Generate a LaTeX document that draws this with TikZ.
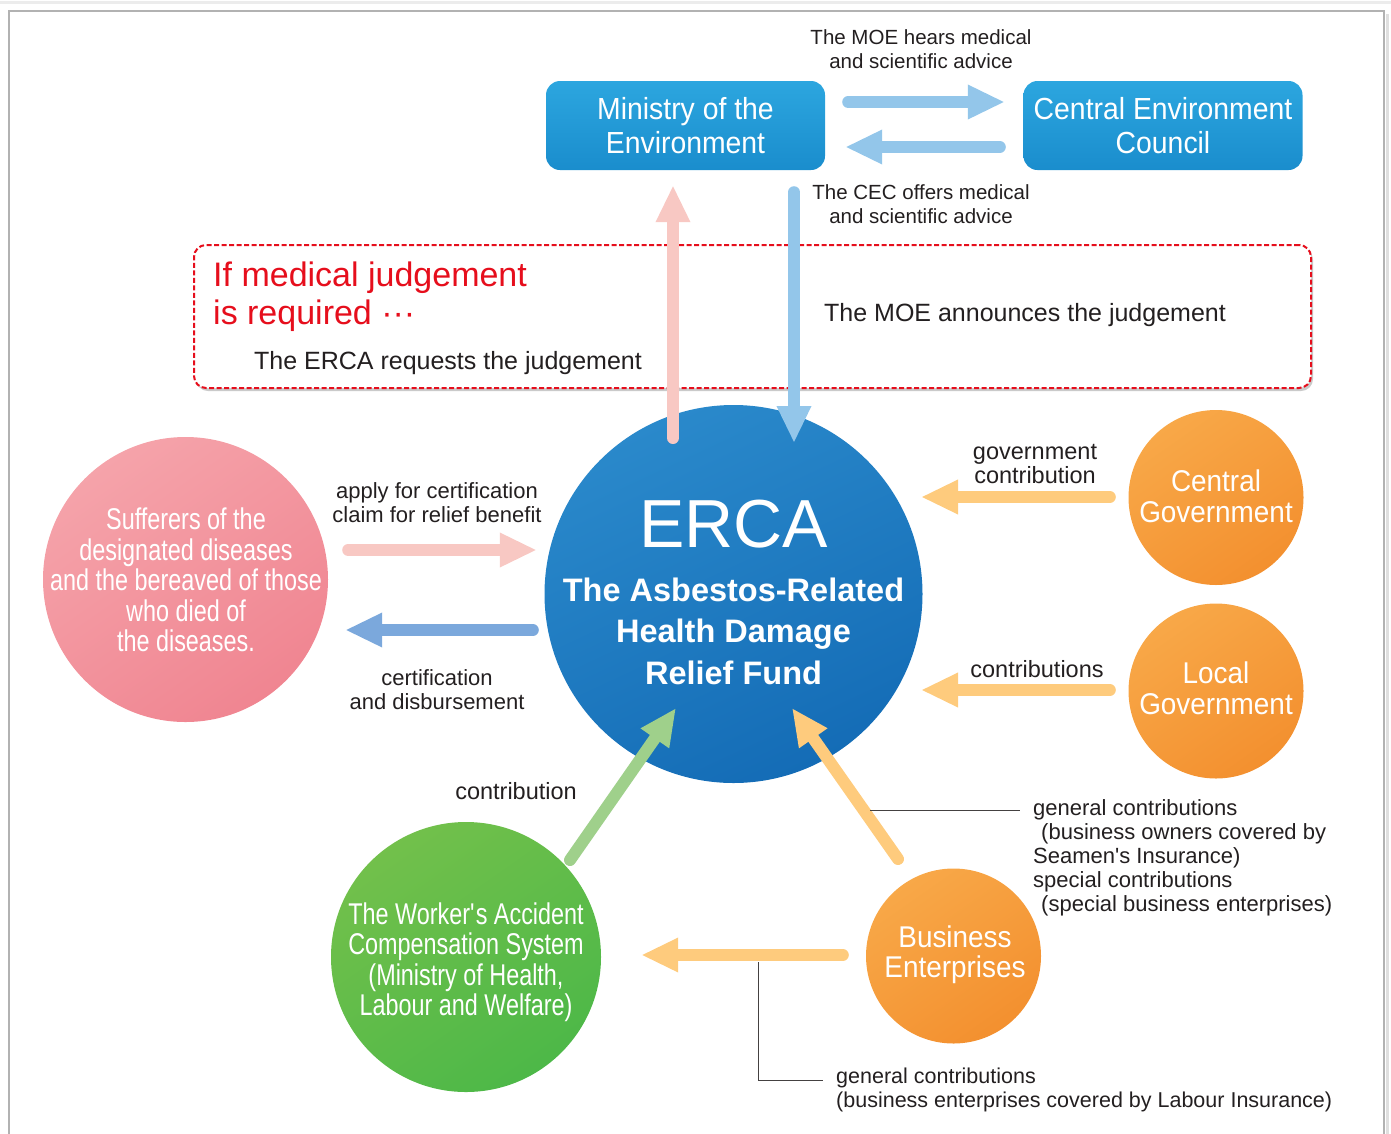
\documentclass[tikz,border=0pt]{standalone}
\usepackage{fontspec}
\setmainfont{Liberation Sans}
\newfontfamily\condA[FakeStretch=0.78]{Liberation Sans}
\newfontfamily\condB[FakeStretch=0.93]{Liberation Sans}
\usetikzlibrary{arrows.meta,calc,shadows}

\definecolor{boxtop}{HTML}{2CA6DF}
\definecolor{boxbot}{HTML}{1A8DCD}
\definecolor{ercaA}{HTML}{2A89CB}
\definecolor{ercaB}{HTML}{146CB6}
\definecolor{pinkA}{HTML}{F5A3AA}
\definecolor{pinkB}{HTML}{F08591}
\definecolor{greenA}{HTML}{72C04B}
\definecolor{greenB}{HTML}{4DB848}
\definecolor{orA}{HTML}{F8A848}
\definecolor{orB}{HTML}{F3902F}
\definecolor{apink}{HTML}{F8C8C3}
\definecolor{alblue}{HTML}{93C6EA}
\definecolor{ablue}{HTML}{7BA8DC}
\definecolor{agreen}{HTML}{9FD08B}
\definecolor{aorange}{HTML}{FECB7D}
\definecolor{jred}{HTML}{E60E1C}
\definecolor{ink}{HTML}{231F20}

\tikzset{
  fat/.style={line width=12pt, line cap=round, -{Triangle[width=32pt,length=37pt]}},
  bluebox/.style={rounded corners=14pt, minimum width=279pt, minimum height=89pt,
    top color=boxtop, bottom color=boxbot, draw=none, text=white, align=center,
    inner sep=0pt, font=\condB\fontsize{30.5}{34}\selectfont},
  circ/.style={circle, draw=none, inner sep=0pt},
  ctext/.style={text=white, align=center, inner sep=0pt},
  lab/.style={text=ink, align=center, inner sep=0pt},
  small/.style={font=\fontsize{20.5}{24.5}\selectfont},
  mid/.style={font=\fontsize{22}{24}\selectfont},
  big/.style={font=\fontsize{25}{28}\selectfont},
  dashbox/.style={draw=jred, line width=2pt, dash pattern=on 5pt off 2.5pt,
    rounded corners=12pt, fill=white, minimum width=1117pt, minimum height=143pt,
    drop shadow={shadow xshift=2pt, shadow yshift=-3pt, opacity=0.35, fill=black!60}},
  leader/.style={draw=ink!85, line width=1pt}
}

\begin{document}
\begin{tikzpicture}[x=1pt,y=-1pt]
\useasboundingbox (0,0) rectangle (1391,1133);
% frame
\draw[gray!15, line width=3pt] (0,2) -- (1391,2);
\draw[gray!25, line width=3pt] (1387.5,14) -- (1387.5,1140);
\draw[gray!60, line width=1.5pt] (9,1140) -- (9,11) -- (1384,11) -- (1384,1140);

% dashed judgement box
\node[dashbox] (judge) at (752.5,316.5) {};
\node[anchor=west, text=jred, align=left, inner sep=0pt,
  font=\fontsize{34}{38}\selectfont] (iftext) at (213,297)
  {If medical judgement\\is required ···};
\node[lab, big] (req) at (448,363) {The ERCA requests the judgement};
\node[lab, big] (ann) at (1025,315) {The MOE announces the judgement};

% top boxes
\node[bluebox] (moe) at (685.5,125.5) {Ministry of the\\Environment};
\node[bluebox] (cec) at (1163,125.5) {Central Environment\\Council};
\node[lab, small] (hears) at (921,49) {The MOE hears medical\\and scientific advice};
\node[lab, small] (offers) at (921,204) {The CEC offers medical\\and scientific advice};

% circles
\node[circ, minimum size=378pt, top color=ercaA, bottom color=ercaB, shading angle=25] (erca) at (733.5,594) {};
\node[ctext, font=\fontsize{68}{70}\selectfont] (ercat) at (733.5,524) {ERCA};
\node[ctext, font=\bfseries\fontsize{32.5}{41.5}\selectfont] (ercasub) at (733.5,631) {The Asbestos-Related\\Health Damage\\Relief Fund};

\node[circ, minimum size=285pt, top color=pinkA, bottom color=pinkB, shading angle=35] (pink) at (185.5,579.5) {};
\node[ctext, font=\condA\fontsize{30}{30.5}\selectfont] (pinkt) at (186,580) {Sufferers of the\\designated diseases\\and the bereaved of those\\who died of\\the diseases.};

\node[circ, minimum size=270pt, top color=greenA, bottom color=greenB, shading angle=35] (green) at (466,957) {};
\node[ctext, font=\condA\fontsize{30}{30.5}\selectfont] (greent) at (466,962) {The Worker\textquotesingle s Accident\\Compensation System\\(Ministry of Health,\\Labour and Welfare)};

\node[circ, minimum size=175pt, top color=orA, bottom color=orB, shading angle=35] (cgov) at (1216,497.5) {};
\node[ctext, font=\condB\fontsize{30}{31}\selectfont] (cgovt) at (1216,496) {Central\\Government};
\node[circ, minimum size=175pt, top color=orA, bottom color=orB, shading angle=35] (lgov) at (1216,691) {};
\node[ctext, font=\condB\fontsize{30}{31}\selectfont] (lgovt) at (1216,688) {Local\\Government};
\node[circ, minimum size=175pt, top color=orA, bottom color=orB, shading angle=35] (biz) at (953.5,956) {};
\node[ctext, font=\condB\fontsize{30}{30}\selectfont] (bizt) at (955,955) {Business\\Enterprises};

% arrows
\draw[fat, alblue] ($(moe.east)+(23,-23.5)$) -- ($(cec.west)+(-18.5,-23.5)$);
\draw[fat, alblue] ($(cec.west)+(-23.5,21.5)$) -- ($(moe.east)+(20,21.5)$);
\draw[fat, apink] ($(erca.center)+(-60.5,-156)$) -- ($(moe.south)+(-12.5,15)$);
\draw[fat, alblue] ($(moe.south)+(108.5,22)$) -- ($(erca.center)+(60.5,-151)$);
\draw[fat, apink] ($(pink.east)+(20,-29.5)$) -- ($(erca.west)+(-7.5,-44)$);
\draw[fat, ablue] ($(erca.west)+(-11.5,36)$) -- ($(pink.east)+(17,50.5)$);
\draw[fat, aorange] ($(cgov.west)+(-18.5,-0.5)$) -- ($(erca.center)+(187.5,-97)$);
\draw[fat, aorange] ($(lgov.west)+(-18.5,-1)$) -- ($(erca.center)+(187.5,96)$);
\draw[fat, agreen] ($(green.center)+(104,-97)$) -- ($(erca.center)+(-57.5,114)$);
\draw[fat, aorange] ($(biz.center)+(-55.5,-97)$) -- ($(erca.center)+(58.5,114)$);
\draw[fat, aorange] ($(biz.west)+(-23,-1)$) -- ($(green.east)+(40,-2)$);

% labels
\node[lab, mid] (apply) at (437,503) {apply for certification\\claim for relief benefit};
\node[lab, mid] (cert) at (437,690) {certification\\and disbursement};
\node[lab, font=\fontsize{23.5}{24}\selectfont] (govc) at (1035,464) {government\\contribution};
\node[lab, font=\fontsize{23.5}{24}\selectfont] (locc) at (1037,669) {contributions};
\node[lab, font=\fontsize{23.5}{24}\selectfont] (wcon) at (516,791) {contribution};

% leader 1
\coordinate (l1a) at ($(biz.center)+(-83.5,-146)$);
\node[lab, anchor=west, align=left, font=\fontsize{22}{24}\selectfont] (gen1) at (1033,858)
  {general contributions\\\hspace*{8pt}(business owners covered by\\Seamen\textquotesingle s Insurance)\\special contributions\\\hspace*{8pt}(special business enterprises)};
\draw[leader] (l1a) -- ($(gen1.west)+(-13,-48)$);

% leader 2
\coordinate (l2a) at ($(biz.west)+(-107,6)$);
\node[lab, anchor=west, align=left, font=\fontsize{21.5}{24}\selectfont] (gen2) at (836,1090)
  {general contributions\\(business enterprises covered by Labour Insurance)};
\draw[leader] (l2a) |- ($(gen2.west)+(-13,-10)$);
\end{tikzpicture}
\end{document}
